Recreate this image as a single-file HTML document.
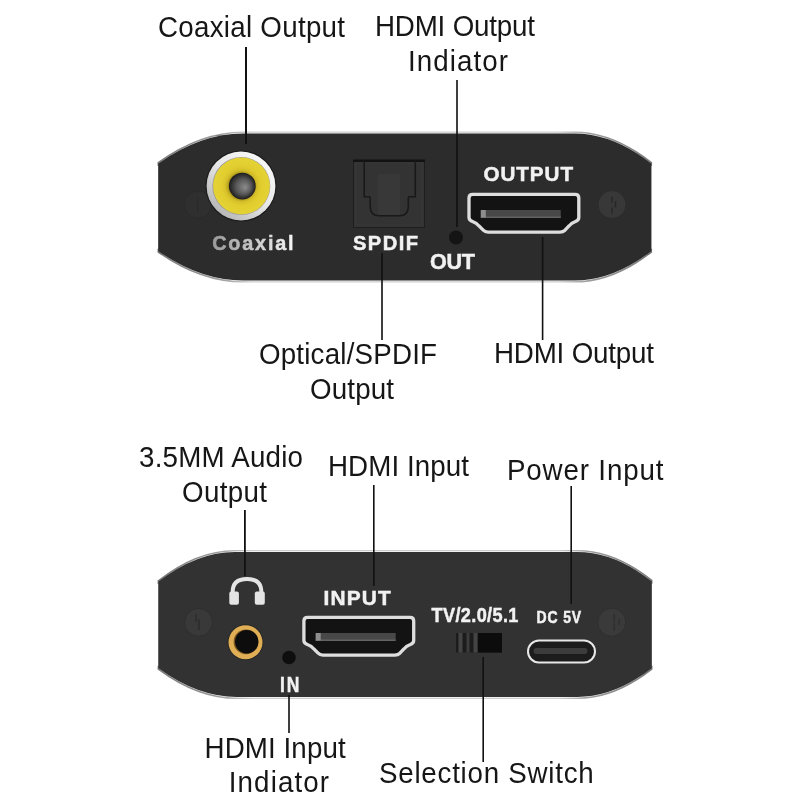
<!DOCTYPE html>
<html><head><meta charset="utf-8">
<style>
html,body{margin:0;padding:0;background:#fff;width:800px;height:800px;overflow:hidden}
svg{display:block;will-change:transform}
.lb{font-family:"Liberation Sans",sans-serif;font-size:29.5px;fill:#161616}
.bd{font-family:"Liberation Sans",sans-serif;font-weight:bold;font-size:20px;fill:#f2f2f2;stroke:#f2f2f2;stroke-width:0.5px}
</style></head><body>
<svg width="800" height="800" viewBox="0 0 800 800">
<defs>
  <linearGradient id="coaxg" x1="0" x2="1" y1="0" y2="0">
    <stop offset="0" stop-color="#9a9a9a"/><stop offset="1" stop-color="#f4f4f4"/>
  </linearGradient>
  <radialGradient id="holeg" cx="0.5" cy="0.5" r="0.5" fx="0.62" fy="0.55">
    <stop offset="0" stop-color="#8c8c8c"/><stop offset="0.55" stop-color="#5a5a5a"/><stop offset="0.9" stop-color="#2a2a2a"/><stop offset="1" stop-color="#1a1a1a"/>
  </radialGradient>
  <radialGradient id="yelg" cx="0.5" cy="0.5" r="0.5">
    <stop offset="0.46" stop-color="#b09a1c"/><stop offset="0.56" stop-color="#d6c02a"/><stop offset="0.7" stop-color="#e2cd2e"/><stop offset="1" stop-color="#e4d234"/>
  </radialGradient>
  <linearGradient id="ringg" x1="0.15" y1="0.9" x2="0.85" y2="0.1">
    <stop offset="0" stop-color="#b4b4b4"/><stop offset="0.5" stop-color="#e6e6e6"/><stop offset="1" stop-color="#f8f8f8"/>
  </linearGradient>
</defs>

<!-- ===== TOP DEVICE ===== -->
<linearGradient id="rimt" gradientUnits="userSpaceOnUse" x1="158.3" y1="0" x2="651.3" y2="0"><stop offset="0" stop-color="#7a7a7a"/><stop offset="0.12" stop-color="#9a9a9a"/><stop offset="0.19" stop-color="#cdcdcd"/><stop offset="0.81" stop-color="#cdcdcd"/><stop offset="0.88" stop-color="#9a9a9a"/><stop offset="1" stop-color="#7a7a7a"/></linearGradient>
<linearGradient id="rimtw" gradientUnits="userSpaceOnUse" x1="158.3" y1="0" x2="651.3" y2="0"><stop offset="0" stop-color="#f4f4f4" stop-opacity="0"/><stop offset="0.14" stop-color="#f4f4f4" stop-opacity="0"/><stop offset="0.19" stop-color="#f4f4f4" stop-opacity="1"/><stop offset="0.81" stop-color="#f4f4f4" stop-opacity="1"/><stop offset="0.86" stop-color="#f4f4f4" stop-opacity="0"/><stop offset="1" stop-color="#f4f4f4" stop-opacity="0"/></linearGradient>
<path d="M158.3,162.6 Q200.7,132.2 243.0,132.2 L574.5,132.2 Q612.9,132.2 651.3,162.7 L651.3,252.0 Q612.9,281.8 574.5,281.8 L243.0,281.8 Q200.7,281.8 158.3,252.0 Z" fill="none" stroke="url(#rimt)" stroke-width="1.6"/>
<path d="M158.3,163.4 Q200.7,133.5 243.0,133.5 L574.5,133.5 Q612.9,133.5 651.3,163.5 L651.3,251.2 Q612.9,280.5 574.5,280.5 L243.0,280.5 Q200.7,280.5 158.3,251.2 Z" fill="none" stroke="url(#rimtw)" stroke-width="1.4"/>
<rect x="155.3" y="165.9" width="3" height="82.8" fill="#ffffff"/>
<rect x="651.3" y="166.0" width="3" height="82.7" fill="#ffffff"/>
<path d="M158.3,163.4 Q200.7,133.5 243.0,133.5 L574.5,133.5 Q612.9,133.5 651.3,163.5 L651.3,251.2 Q612.9,280.5 574.5,280.5 L243.0,280.5 Q200.7,280.5 158.3,251.2 Z" fill="#2c2c2c"/>

<!-- screws -->
<circle cx="198" cy="204.8" r="13.5" fill="#2f2f2f" stroke="#292929" stroke-width="0.6"/>
<rect x="197.2" y="197" width="1" height="15" fill="#2a2a2a"/>
<circle cx="612" cy="204.6" r="14" fill="#383838" stroke="#2a2a2a" stroke-width="0.8"/>
<rect x="611.2" y="196.5" width="1.4" height="6" fill="#262626"/><rect x="611.2" y="207.5" width="1.4" height="6" fill="#262626"/><rect x="614.8" y="201.5" width="1.4" height="6" fill="#262626"/>

<!-- coax -->
<circle cx="241" cy="186" r="35.6" fill="#1c1c1c"/>
<circle cx="241" cy="186" r="34.4" fill="url(#ringg)"/>
<circle cx="241.3" cy="186" r="29" fill="#9c9c9c"/>
<circle cx="241.5" cy="186" r="28.4" fill="url(#yelg)"/>
<circle cx="242.3" cy="186.1" r="13.4" fill="url(#holeg)"/>

<!-- optical -->
<rect x="353" y="160" width="72" height="68" fill="#1e1e1e"/>
<rect x="354" y="161" width="70" height="66" fill="#333333"/>
<rect x="356" y="163" width="66" height="62" fill="none" stroke="#383838" stroke-width="1"/>
<rect x="353" y="159.5" width="72" height="2.5" fill="#121212"/>
<rect x="378" y="174" width="22" height="41" fill="#383838"/>
<path d="M364.2,161 L364.2,196.8 L369.5,196.8 Q370.2,196.8 370.2,198 L370.2,206 Q370.2,215.8 379,215.8 L399.5,215.8 Q408.3,215.8 408.3,206 L408.3,198 Q408.3,196.8 409,196.8 L415.3,196.8 L415.3,161" fill="none" stroke="#191919" stroke-width="1.6"/>

<!-- led out -->
<circle cx="456" cy="237.5" r="7" fill="#141414"/>

<!-- hdmi out -->
<g id="hdmi">
<path d="M469,198 Q469,194.3 472.7,194.3 L575.1,194.3 Q578.8,194.3 578.8,198 L578.8,217.5 Q578.8,220.5 575,221.8 Q571.5,223 569,226 L565,230.2 Q563,232.1 560,232.1 L488,232.1 Q485,232.1 483.2,230.2 L479,226 Q476.5,223 473,221.8 Q469,220.5 469,217.5 Z" fill="#131313" stroke="#dedede" stroke-width="3.3"/>
<rect x="480.8" y="210" width="80" height="7.5" fill="#484848"/>
<rect x="480.8" y="216.6" width="80" height="1.3" fill="#6a6a6a"/>
<rect x="480.8" y="210" width="5" height="7.5" fill="#8e8e8e"/>
</g>

<!-- ===== BOTTOM DEVICE ===== -->
<linearGradient id="rimb" gradientUnits="userSpaceOnUse" x1="158.4" y1="0" x2="651.7" y2="0"><stop offset="0" stop-color="#7a7a7a"/><stop offset="0.12" stop-color="#9a9a9a"/><stop offset="0.19" stop-color="#cdcdcd"/><stop offset="0.81" stop-color="#cdcdcd"/><stop offset="0.88" stop-color="#9a9a9a"/><stop offset="1" stop-color="#7a7a7a"/></linearGradient>
<linearGradient id="rimbw" gradientUnits="userSpaceOnUse" x1="158.4" y1="0" x2="651.7" y2="0"><stop offset="0" stop-color="#f4f4f4" stop-opacity="0"/><stop offset="0.14" stop-color="#f4f4f4" stop-opacity="0"/><stop offset="0.19" stop-color="#f4f4f4" stop-opacity="1"/><stop offset="0.81" stop-color="#f4f4f4" stop-opacity="1"/><stop offset="0.86" stop-color="#f4f4f4" stop-opacity="0"/><stop offset="1" stop-color="#f4f4f4" stop-opacity="0"/></linearGradient>
<path d="M158.4,580.8 Q196.7,550.7 235.0,550.7 L577.5,550.7 Q614.6,550.7 651.7,580.4 L651.7,669.0 Q614.6,698.3 577.5,698.3 L237.0,698.3 Q197.7,698.3 158.4,669.1 Z" fill="none" stroke="url(#rimb)" stroke-width="1.6"/>
<path d="M158.4,581.6 Q196.7,552.0 235.0,552.0 L577.5,552.0 Q614.6,552.0 651.7,581.2 L651.7,668.2 Q614.6,697.0 577.5,697.0 L237.0,697.0 Q197.7,697.0 158.4,668.3 Z" fill="none" stroke="url(#rimbw)" stroke-width="1.4"/>
<rect x="155.4" y="584.1" width="3" height="81.7" fill="#ffffff"/>
<rect x="651.7" y="583.7" width="3" height="82.0" fill="#ffffff"/>
<path d="M158.4,581.6 Q196.7,552.0 235.0,552.0 L577.5,552.0 Q614.6,552.0 651.7,581.2 L651.7,668.2 Q614.6,697.0 577.5,697.0 L237.0,697.0 Q197.7,697.0 158.4,668.3 Z" fill="#323232"/>

<circle cx="198.5" cy="622.3" r="13.9" fill="#393939" stroke="#2d2d2d" stroke-width="0.8"/>
<rect x="195.5" y="614" width="1.3" height="8" fill="#2a2a2a"/><rect x="198.3" y="619" width="1.3" height="11" fill="#2a2a2a"/>
<circle cx="611.8" cy="622.3" r="14" fill="#3a3a3a" stroke="#2d2d2d" stroke-width="0.8"/>
<rect x="613.5" y="614" width="1.3" height="8" fill="#2c2c2c"/><rect x="618.5" y="619" width="1.3" height="6" fill="#2c2c2c"/><rect x="613.5" y="623" width="1.3" height="8" fill="#2c2c2c"/>

<!-- headphones -->
<path d="M232.6,592 C232.6,582.5 238.5,579 247,579 C255.5,579 261.4,582.5 261.4,592" fill="none" stroke="#e4e4e4" stroke-width="4" stroke-linecap="round"/>
<rect x="229.3" y="591.5" width="9.6" height="13.3" rx="2" fill="#e4e4e4"/>
<rect x="254.8" y="591.5" width="10" height="13.3" rx="2" fill="#e4e4e4"/>

<!-- jack -->
<circle cx="245.5" cy="642.2" r="17.8" fill="#222"/>
<circle cx="245.5" cy="642.2" r="17" fill="#dfae55"/>
<circle cx="246" cy="641.8" r="12.4" fill="#7a5520"/>
<circle cx="246.7" cy="641.8" r="11.7" fill="#0d0d0d"/>

<!-- led in -->
<circle cx="289" cy="657.5" r="6.8" fill="#0e0e0e"/>

<!-- hdmi in -->
<use href="#hdmi" transform="translate(-165.1,423)"/>

<!-- switch -->
<rect x="456" y="633" width="46" height="19.5" fill="#1c1c1c"/>
<rect x="458.5" y="633" width="4" height="19.5" fill="#444"/>
<rect x="466.5" y="633" width="3" height="19.5" fill="#3c3c3c"/>
<rect x="473.5" y="633" width="4" height="19.5" fill="#444"/>
<rect x="478" y="633" width="24" height="19.5" fill="#0c0c0c"/>

<!-- usb c -->
<rect x="528" y="640.5" width="67" height="22" rx="11" fill="#1c1c1c" stroke="#e8e8e8" stroke-width="2"/>
<rect x="533.5" y="648" width="54" height="6" rx="3" fill="#3c3c3c"/>

<!-- BOLD -->
<text class="bd" transform="translate(212.20,249.8) scale(0.95,1)" style="fill:url(#coaxg);stroke:url(#coaxg);font-size:20.87px" textLength="85.68" lengthAdjust="spacing">Coaxial</text>
<text class="bd" transform="translate(353.00,250) scale(1,1)" style="font-size:20.14px" textLength="65.00" lengthAdjust="spacing">SPDIF</text>
<text class="bd" transform="translate(430.00,268.8) scale(1,1)" style="font-size:21.59px" textLength="45.00" lengthAdjust="spacing">OUT</text>
<text class="bd" transform="translate(483.40,181) scale(1,1)" style="font-size:20.65px" textLength="89.60" lengthAdjust="spacing">OUTPUT</text>
<text class="bd" transform="translate(280.00,692.3) scale(0.82,1)" style="font-size:21.30px" textLength="23.66" lengthAdjust="spacing">IN</text>
<text class="bd" transform="translate(323.40,605.4) scale(1,1)" style="font-size:20.87px" textLength="67.40" lengthAdjust="spacing">INPUT</text>
<text class="bd" transform="translate(431.60,621.9) scale(0.9,1)" style="font-size:20.14px" textLength="96.44" lengthAdjust="spacing">TV/2.0/5.1</text>
<text class="bd" transform="translate(536.40,623.4) scale(0.84,1)" style="font-size:16.67px" textLength="53.33" lengthAdjust="spacing">DC 5V</text>
<!-- /BOLD -->

<!-- ===== CALLOUT LINES ===== -->
<g fill="#111">
<rect x="245" y="47" width="2" height="97"/>
<rect x="456.2" y="80" width="1.6" height="147"/>
<rect x="381.2" y="253" width="1.6" height="87"/>
<rect x="541.8" y="237" width="1.6" height="103"/>
<rect x="244" y="510" width="1.8" height="66"/>
<rect x="373" y="485" width="1.6" height="101"/>
<rect x="570.4" y="486" width="1.6" height="118"/>
<rect x="288.2" y="695" width="1.6" height="38"/>
<rect x="482.4" y="657" width="1.6" height="105"/>
</g>

<!-- ===== LABELS ===== -->
<!-- LABELS -->
<text class="lb" transform="translate(158.00,36.7) scale(0.94,1)" textLength="198.94" lengthAdjust="spacing">Coaxial Output</text>
<text class="lb" transform="translate(375.00,36.3) scale(0.94,1)" textLength="170.21" lengthAdjust="spacing">HDMI Output</text>
<text class="lb" transform="translate(408.00,70.6) scale(0.94,1)" textLength="106.38" lengthAdjust="spacing">Indiator</text>
<text class="lb" transform="translate(259.00,363.8) scale(0.94,1)" textLength="189.36" lengthAdjust="spacing">Optical/SPDIF</text>
<text class="lb" transform="translate(310.00,398.8) scale(0.94,1)" textLength="89.36" lengthAdjust="spacing">Output</text>
<text class="lb" transform="translate(494.00,362.5) scale(0.94,1)" textLength="170.21" lengthAdjust="spacing">HDMI Output</text>
<text class="lb" transform="translate(139.00,467) scale(0.94,1)" textLength="174.47" lengthAdjust="spacing">3.5MM Audio</text>
<text class="lb" transform="translate(182.00,502) scale(0.94,1)" textLength="90.43" lengthAdjust="spacing">Output</text>
<text class="lb" transform="translate(328.00,476) scale(0.94,1)" textLength="150.00" lengthAdjust="spacing">HDMI Input</text>
<text class="lb" transform="translate(507.00,480) scale(0.94,1)" textLength="166.38" lengthAdjust="spacing">Power Input</text>
<text class="lb" transform="translate(204.60,758.1) scale(0.94,1)" textLength="150.00" lengthAdjust="spacing">HDMI Input</text>
<text class="lb" transform="translate(228.80,792.3) scale(0.94,1)" textLength="106.60" lengthAdjust="spacing">Indiator</text>
<text class="lb" transform="translate(379.00,783) scale(0.94,1)" textLength="228.51" lengthAdjust="spacing">Selection Switch</text>
<!-- /LABELS -->
</svg>
</body></html>
